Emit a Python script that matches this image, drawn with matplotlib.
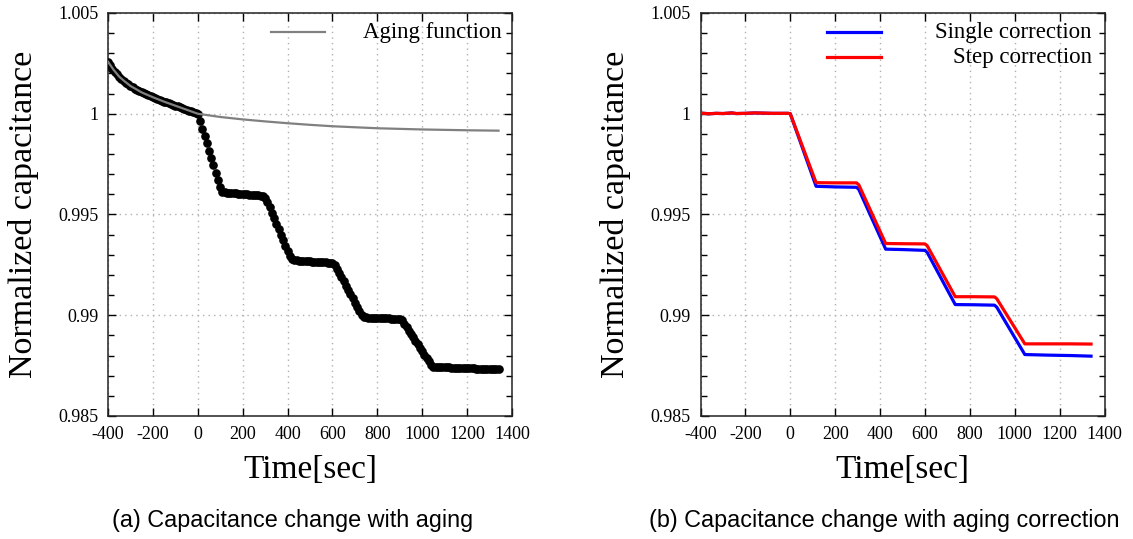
import numpy as np
import matplotlib
matplotlib.use("Agg")
import matplotlib.pyplot as plt
from matplotlib.ticker import MultipleLocator, FuncFormatter

plt.rcParams['font.family'] = 'Liberation Serif'
plt.rcParams['axes.unicode_minus'] = False

# (a) measured capacitance, one sample every 10 s from -400 to 1340
time_a = np.arange(-400, 1341, 10)
meas_a = [
    1.00258, 1.00240, 1.00224, 1.00209, 1.00196, 1.00184, 1.00173, 1.00163, 1.00154, 1.00146,
    1.00138, 1.00131, 1.00124, 1.00118, 1.00112, 1.00106, 1.00101, 1.00096, 1.00091, 1.00086,
    1.00082, 1.00077, 1.00073, 1.00068, 1.00064, 1.00060, 1.00056, 1.00052, 1.00048, 1.00044,
    1.00040, 1.00036, 1.00032, 1.00028, 1.00024, 1.00020, 1.00016, 1.00012, 1.00008, 1.00004,
    1.00000, 0.99963, 0.99926, 0.99890, 0.99853, 0.99817, 0.99780, 0.99744, 0.99707, 0.99672,
    0.99638, 0.99612, 0.99610, 0.99609, 0.99608, 0.99607, 0.99606, 0.99605, 0.99604, 0.99603,
    0.99602, 0.99601, 0.99600, 0.99599, 0.99598, 0.99597, 0.99596, 0.99595, 0.99593, 0.99590,
    0.99582, 0.99560, 0.99535, 0.99508, 0.99482, 0.99455, 0.99428, 0.99400, 0.99373, 0.99346,
    0.99320, 0.99295, 0.99278, 0.99273, 0.99272, 0.99271, 0.99270, 0.99269, 0.99269, 0.99268,
    0.99267, 0.99266, 0.99266, 0.99265, 0.99264, 0.99263, 0.99262, 0.99262, 0.99261, 0.99260,
    0.99258, 0.99250, 0.99230, 0.99210, 0.99189, 0.99168, 0.99147, 0.99126, 0.99105, 0.99084,
    0.99063, 0.99042, 0.99021, 0.99000, 0.98990, 0.98989, 0.98988, 0.98988, 0.98987, 0.98987,
    0.98986, 0.98986, 0.98985, 0.98985, 0.98984, 0.98984, 0.98983, 0.98983, 0.98982, 0.98982,
    0.98980, 0.98975, 0.98958, 0.98941, 0.98924, 0.98907, 0.98890, 0.98873, 0.98856, 0.98839,
    0.98822, 0.98805, 0.98788, 0.98771, 0.98754, 0.98745, 0.98744, 0.98743, 0.98743, 0.98742,
    0.98742, 0.98741, 0.98741, 0.98740, 0.98740, 0.98739, 0.98739, 0.98738, 0.98738, 0.98737,
    0.98737, 0.98736, 0.98736, 0.98736, 0.98735, 0.98735, 0.98734, 0.98734, 0.98734, 0.98733,
    0.98733, 0.98733, 0.98732, 0.98732, 0.98732,
]

# (a) aging function
time_age = [-400, -375, -350, -325, -300, -250, -200, -150, -100, -50, 0,
            100, 200, 300, 400, 500, 600, 700, 800, 900, 1000, 1100, 1200, 1340]
aging = [1.00258, 1.00218, 1.00184, 1.00160, 1.00138, 1.00106, 1.00082, 1.00060, 1.00040, 1.00020, 1.00000,
         0.99984, 0.99972, 0.99962, 0.99953, 0.99945, 0.99938, 0.99933, 0.99928, 0.99925, 0.99922,
         0.99920, 0.99918, 0.99916]

# (b) corrected curves
time_b = [-400, -360, -330, -300, -260, -240, -200, -160, -120, -80, -40, -10, 0, 115, 200, 295, 305,
          425, 500, 600, 610, 735, 820, 910, 920, 1045, 1150, 1250, 1340]
single = [1.00003, 1.00000, 1.00002, 1.00001, 1.00004, 1.00001, 1.00002, 1.00004, 1.00003, 1.00002,
          1.00002, 1.00002, 1.00000, 0.99640, 0.99637, 0.99635, 0.99625, 0.99328, 0.99326, 0.99322,
          0.99312, 0.99053, 0.99052, 0.99050, 0.99040, 0.98805, 0.98802, 0.98800, 0.98797]
step = [1.00003, 1.00000, 1.00002, 1.00001, 1.00004, 1.00001, 1.00002, 1.00004, 1.00003, 1.00002,
        1.00002, 1.00002, 1.00000, 0.99658, 0.99657, 0.99657, 0.99648, 0.99356, 0.99355, 0.99354,
        0.99345, 0.99092, 0.99092, 0.99091, 0.99082, 0.98858, 0.98858, 0.98858, 0.98857]

fig = plt.figure(figsize=(11.33, 5.39), dpi=100)
ax1 = fig.add_axes([108 / 1133, 1 - 416 / 539, 404 / 1133, 403 / 539])
ax2 = fig.add_axes([700.5 / 1133, 1 - 416 / 539, 404 / 1133, 403 / 539])


def style(ax):
    ax.set_xlim(-400, 1400)
    ax.set_ylim(0.985, 1.005)
    ax.xaxis.set_major_locator(MultipleLocator(200))
    ax.yaxis.set_major_locator(MultipleLocator(0.005))
    ax.yaxis.set_minor_locator(MultipleLocator(0.001))
    ax.yaxis.set_major_formatter(FuncFormatter(lambda v, p: '%g' % round(v, 4)))
    ax.tick_params(which='both', direction='in', top=True, right=True, labelsize=13, pad=7)
    ax.tick_params(which='major', length=6, width=1)
    ax.tick_params(which='minor', length=4, width=1)
    ax.grid(True, which='major', linestyle=(0, (1, 3)), color='#b0b0b0', linewidth=1.0)
    for s in ax.spines.values():
        s.set_linewidth(1.1)
        s.set_color('#222222')
    ax.set_axisbelow(True)


style(ax1)
style(ax2)

# (a)
ax1.plot(time_a, meas_a, 'o', color='black', markersize=5.2, zorder=3)
ax1.plot(time_age, aging, '-', color='#808080', linewidth=1.6, zorder=4)
ax1.plot([0.403, 0.537], [0.952, 0.952], transform=ax1.transAxes, color='#808080', linewidth=1.6)
ax1.text(0.975, 0.952, 'Aging function', transform=ax1.transAxes, ha='right', va='center', fontsize=16.5)

# (b)
ax2.plot(time_b, single, '-', color='#0000ff', linewidth=2.3, zorder=3)
ax2.plot(time_b, step, '-', color='#ff0000', linewidth=2.3, zorder=4)
ax2.plot([0.313, 0.447], [0.952, 0.952], transform=ax2.transAxes, color='#0000ff', linewidth=2.3)
ax2.plot([0.313, 0.447], [0.890, 0.890], transform=ax2.transAxes, color='#ff0000', linewidth=2.3)
ax2.text(0.969, 0.952, 'Single correction', transform=ax2.transAxes, ha='right', va='center', fontsize=16.5)
ax2.text(0.969, 0.890, 'Step correction', transform=ax2.transAxes, ha='right', va='center', fontsize=16.5)

# axis labels
for xc, yl in [(24, 'Normalized capacitance'), (615.5, 'Normalized capacitance')]:
    fig.text(xc / 1133, 1 - 214.5 / 539, yl, rotation=90, ha='center', va='center', fontsize=24.5)
for xc in [310, 902]:
    fig.text(xc / 1133, 1 - 470 / 539, 'Time[sec]', ha='center', va='center', fontsize=24)

# captions
fig.text(293 / 1133, 1 - 521 / 539, '(a) Capacitance change with aging', ha='center', va='center',
         fontsize=16.8, family='Liberation Sans')
fig.text(884 / 1133, 1 - 521 / 539, '(b) Capacitance change with aging correction', ha='center', va='center',
         fontsize=16.8, family='Liberation Sans')

fig.savefig('out.png', dpi=100)
